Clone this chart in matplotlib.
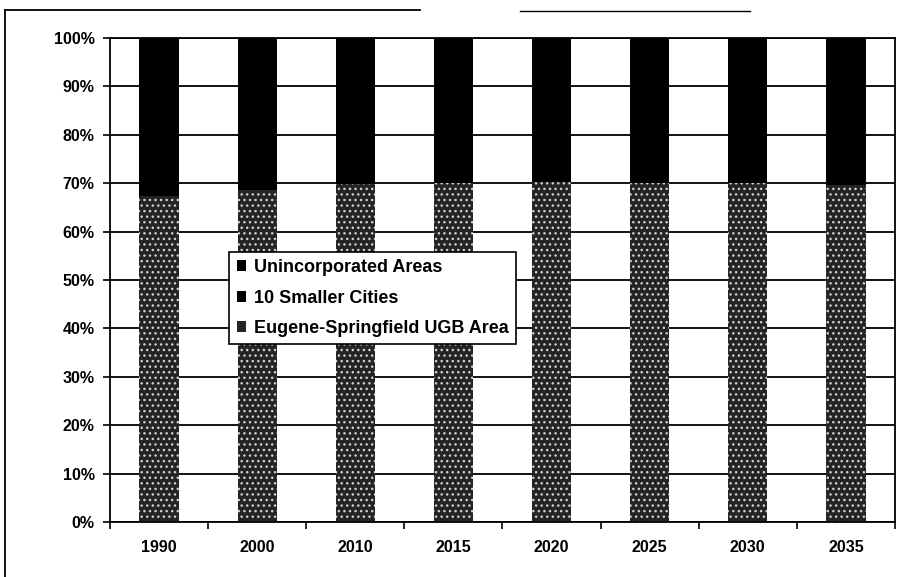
import matplotlib.pyplot as plt
from matplotlib.lines import Line2D
import numpy as np

plt.rcParams['font.family'] = ['Liberation Sans', 'DejaVu Sans']
plt.rcParams['font.weight'] = 'bold'

years = ['1990', '2000', '2010', '2015', '2020', '2025', '2030', '2035']
# shares of county population, percent
ugb_area = [67.3, 68.6, 69.9, 70.1, 70.2, 70.0, 70.1, 69.7]
smaller_cities = [15.8, 15.6, 15.3, 15.2, 15.2, 15.3, 15.3, 15.4]
unincorporated = [100 - a - b for a, b in zip(ugb_area, smaller_cities)]

fig = plt.figure(figsize=(9.03, 5.77), dpi=100)
ax = fig.add_axes([110 / 903, 55 / 577, 785 / 903, 484 / 577])

x = np.arange(len(years))
w = 0.4

ax.set_axisbelow(True)
ax.yaxis.grid(True, color='black', linewidth=1.3)

b1 = ax.bar(x, ugb_area, w, color='#242424', linewidth=0,
            label='Eugene-Springfield UGB Area')
# speckled fill on the bottom segment
ax.bar(x, ugb_area, w, facecolor='none', edgecolor='#cfcfcf', linewidth=0,
       hatch='...')
bottom2 = np.array(ugb_area)
b2 = ax.bar(x, smaller_cities, w, bottom=bottom2, color='black', linewidth=0,
            label='10 Smaller Cities')
bottom3 = bottom2 + np.array(smaller_cities)
b3 = ax.bar(x, unincorporated, w, bottom=bottom3, color='black', linewidth=0,
            label='Unincorporated Areas')

ax.set_xlim(-0.5, len(years) - 0.5)
ax.set_ylim(0, 100)
ax.set_yticks(np.arange(0, 101, 10))
ax.set_yticklabels([f'{v}%' for v in range(0, 101, 10)])
ax.set_xticks(x)
ax.set_xticklabels(years)
ax.set_xticks(np.arange(-0.5, len(years), 1), minor=True)
ax.tick_params(axis='x', which='major', length=0, pad=13, labelsize=11.5)
ax.tick_params(axis='x', which='minor', length=5, width=1.2, direction='out')
ax.tick_params(axis='y', length=5, width=1.2, pad=6, labelsize=11.5)

for s in ax.spines.values():
    s.set_linewidth(1.3)
    s.set_color('black')

leg = ax.legend(handles=[b3, b2, b1], loc='upper left',
                bbox_to_anchor=(0.152, 0.558), fontsize=13, frameon=True,
                fancybox=False, edgecolor='black', framealpha=1,
                handlelength=0.55, handleheight=0.55, handletextpad=0.4,
                labelspacing=0.75, borderpad=0.4, borderaxespad=0)
leg.get_frame().set_linewidth(1.2)

# outer frame lines
fig.add_artist(Line2D([5 / 903, 5 / 903], [0, 1 - 10 / 577],
                      color='black', linewidth=1.3))
fig.add_artist(Line2D([5 / 903, 420 / 903], [1 - 10 / 577, 1 - 10 / 577],
                      color='black', linewidth=1.3))
fig.add_artist(Line2D([520 / 903, 750 / 903], [1 - 11 / 577, 1 - 11 / 577],
                      color='black', linewidth=1.0))

fig.savefig('out.png', dpi=100)
